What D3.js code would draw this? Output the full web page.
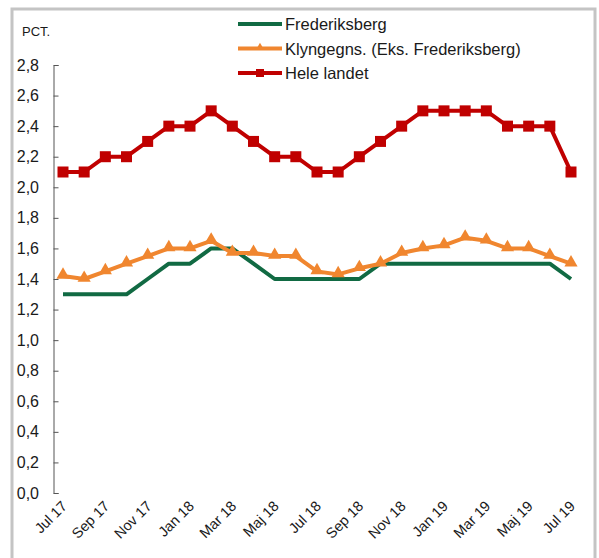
<!DOCTYPE html>
<html>
<head>
<meta charset="utf-8">
<script src="https://cdn.jsdelivr.net/npm/d3@7"></script>
<style>
  body { margin: 0; background: #fff; }
  text { font-family: "Liberation Sans", Arial, sans-serif; fill: #1a1a1a; }
</style>
</head>
<body>
<div class="chart"></div>
<script>
const months = ['Jul 17','Aug 17','Sep 17','Okt 17','Nov 17','Dec 17','Jan 18','Feb 18','Mar 18','Apr 18','Maj 18','Jun 18',
  'Jul 18','Aug 18','Sep 18','Okt 18','Nov 18','Dec 18','Jan 19','Feb 19','Mar 19','Apr 19','Maj 19','Jun 19','Jul 19']
const frederiksberg = [1.3,1.3,1.3,1.3,1.4,1.5,1.5,1.6,1.6,1.5,1.4,1.4,1.4,1.4,1.4,1.5,1.5,1.5,1.5,1.5,1.5,1.5,1.5,1.5,1.4]
const klynge = [1.42,1.40,1.45,1.50,1.55,1.60,1.60,1.65,1.57,1.57,1.55,1.55,1.45,1.43,1.47,1.50,1.57,1.60,1.62,1.67,1.65,1.60,1.60,1.55,1.50]
const heleLandet = [2.1,2.1,2.2,2.2,2.3,2.4,2.4,2.5,2.4,2.3,2.2,2.2,2.1,2.1,2.2,2.3,2.4,2.5,2.5,2.5,2.5,2.4,2.4,2.4,2.1]
const yTicks = [0,0.2,0.4,0.6,0.8,1.0,1.2,1.4,1.6,1.8,2.0,2.2,2.4,2.6,2.8]

const series = [
  { name: 'Frederiksberg', values: frederiksberg, color: '#116a43', marker: null },
  { name: 'Klyngegns. (Eks. Frederiksberg)', values: klynge, color: '#f0862f', marker: 'triangle' },
  { name: 'Hele landet', values: heleLandet, color: '#c00000', marker: 'square' }
]

const svg = d3.select('.chart')
  .append('svg')
  .attr('width', 599)
  .attr('height', 558)

// grey frame
svg.append('rect')
  .attr('x', 12).attr('y', 9)
  .attr('width', 583).attr('height', 580)
  .attr('fill', 'none')
  .attr('stroke', '#c4c4c4')
  .attr('stroke-width', 3)

const x = d3.scalePoint().domain(months).range([63, 571])
const y = d3.scaleLinear().domain([0, 2.8]).range([493, 65])
const fmt = d => d3.format('.1f')(d).replace('.', ',')

// y axis
const yAxis = svg.append('g')
  .attr('transform', 'translate(53.5,0)')
  .call(d3.axisRight(y).tickValues(yTicks).tickSize(5).tickFormat(''))
yAxis.select('.domain').attr('stroke', '#555').attr('d', 'M5,65.5H0.5V493.5H5')
yAxis.selectAll('.tick line').attr('stroke', '#555')

svg.append('g').selectAll('text')
  .data(yTicks)
  .enter()
  .append('text')
    .attr('x', 39)
    .attr('y', d => y(d) + 5.5)
    .attr('text-anchor', 'end')
    .style('font-size', '16px')
    .text(fmt)

svg.append('text')
  .attr('x', 22).attr('y', 36)
  .style('font-size', '13px')
  .text('PCT.')

// x labels every other month
svg.append('g').selectAll('text')
  .data(months.filter((m, i) => i % 2 == 0))
  .enter()
  .append('text')
    .attr('text-anchor', 'end')
    .attr('transform', d => 'translate(' + (x(d) + 5) + ',507) rotate(-45)')
    .style('font-size', '14.5px')
    .text(d => d)

const line = d3.line()
  .x((d, i) => x(months[i]))
  .y(d => y(d))

const tri = d3.symbol().type(d3.symbolTriangle).size(75)

series.forEach(function (s) {
  svg.append('path')
    .datum(s.values)
    .attr('d', line)
    .attr('fill', 'none')
    .attr('stroke', s.color)
    .attr('stroke-width', 4)
    .attr('stroke-linejoin', 'round')

  if (s.marker == 'square') {
    svg.append('g').selectAll('rect')
      .data(s.values)
      .enter()
      .append('rect')
        .attr('x', (d, i) => x(months[i]) - 5.5)
        .attr('y', d => y(d) - 5.5)
        .attr('width', 11).attr('height', 11)
        .attr('fill', s.color)
  } else if (s.marker == 'triangle') {
    svg.append('g').selectAll('path')
      .data(s.values)
      .enter()
      .append('path')
        .attr('d', tri)
        .attr('transform', (d, i) => 'translate(' + x(months[i]) + ',' + (y(d) - 1) + ')')
        .attr('fill', s.color)
  }
})

// legend
const legend = svg.append('g')
series.forEach(function (s, i) {
  const ly = 24 + i * 24.5
  legend.append('line')
    .attr('x1', 238).attr('x2', 282)
    .attr('y1', ly).attr('y2', ly)
    .attr('stroke', s.color)
    .attr('stroke-width', 4)
  if (s.marker == 'square') {
    legend.append('rect')
      .attr('x', 256).attr('y', ly - 4)
      .attr('width', 8).attr('height', 8)
      .attr('fill', s.color)
  } else if (s.marker == 'triangle') {
    legend.append('path')
      .attr('d', d3.symbol().type(d3.symbolTriangle).size(30))
      .attr('transform', 'translate(260,' + (ly - 1) + ')')
      .attr('fill', s.color)
  }
  legend.append('text')
    .attr('x', 285).attr('y', ly + 6)
    .style('font-size', '16.5px')
    .text(s.name)
})
</script>
</body>
</html>
